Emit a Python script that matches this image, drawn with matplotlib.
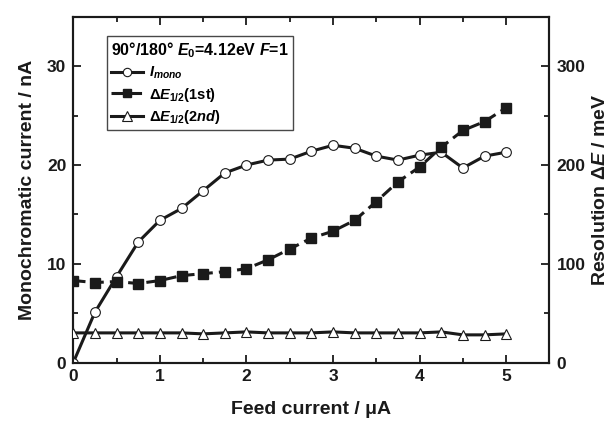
import matplotlib
matplotlib.use("Agg")
import matplotlib.pyplot as plt
from matplotlib.ticker import MultipleLocator
from matplotlib.lines import Line2D

plt.rcParams['font.family'] = ['Liberation Sans', 'DejaVu Sans']
plt.rcParams['font.weight'] = 'bold'
plt.rcParams['mathtext.fontset'] = 'custom'
plt.rcParams['mathtext.it'] = 'Liberation Sans:italic:bold'
plt.rcParams['mathtext.rm'] = 'Liberation Sans:bold'

# Feed current (uA)
feed = [0.0, 0.25, 0.5, 0.75, 1.0, 1.25, 1.5, 1.75, 2.0, 2.25, 2.5,
        2.75, 3.0, 3.25, 3.5, 3.75, 4.0, 4.25, 4.5, 4.75, 5.0]

# Monochromatic current (nA), left axis
i_mono = [0.0, 5.1, 8.7, 12.2, 14.4, 15.6, 17.4, 19.2, 20.0, 20.5, 20.6,
          21.4, 22.0, 21.7, 20.9, 20.5, 21.0, 21.3, 19.7, 20.9, 21.3]

# Resolution dE_1/2 (meV), right axis
de_1st = [83, 81, 82, 80, 83, 88, 90, 92, 95, 104, 115,
          126, 133, 144, 163, 183, 198, 218, 235, 244, 258]
de_2nd = [30, 30, 30, 30, 30, 30, 29, 30, 31, 30, 30,
          30, 31, 30, 30, 30, 30, 31, 28, 28, 29]

fig = plt.figure(figsize=(6.16, 4.23), dpi=100)
ax = fig.add_axes([0.119, 0.143, 0.773, 0.817])
ax2 = ax.twinx()

lw = 2.2
ax.plot(feed, i_mono, "-", color="#1a1a1a", lw=lw, marker="o", ms=7,
        mfc="white", mec="#1a1a1a", mew=0.8, zorder=3)
ax2.plot(feed, de_1st, "--", color="#1a1a1a", lw=lw, marker="s", ms=6.5,
         mfc="#1a1a1a", mec="#1a1a1a", dashes=(4, 2), zorder=3)
ax2.plot(feed, de_2nd, "-", color="#1a1a1a", lw=lw, marker="^", ms=7.5,
         mfc="white", mec="#1a1a1a", mew=0.8, zorder=3)

ax.set_xlim(0, 5.5)
ax.set_ylim(0, 35)
ax2.set_ylim(0, 350)

ax.xaxis.set_major_locator(MultipleLocator(1))
ax.xaxis.set_minor_locator(MultipleLocator(0.5))
ax.yaxis.set_major_locator(MultipleLocator(10))
ax.yaxis.set_minor_locator(MultipleLocator(5))
ax2.yaxis.set_major_locator(MultipleLocator(100))
ax2.yaxis.set_minor_locator(MultipleLocator(50))

for a in (ax, ax2):
    for s in a.spines.values():
        s.set_linewidth(1.5)
        s.set_color("#1a1a1a")
ax.tick_params(which="both", direction="in", top=True, width=1.3,
               labelsize=12.5, colors="#1a1a1a", pad=5)
ax.tick_params(which="major", length=6)
ax.tick_params(which="minor", length=3.5)
ax.tick_params(axis="y", right=False)
ax2.tick_params(which="both", direction="in", width=1.3, labelsize=12.5,
                colors="#1a1a1a", pad=5)
ax2.tick_params(which="major", length=6)
ax2.tick_params(which="minor", length=3.5)

ax.set_xlabel("Feed current / \u03bcA", fontsize=14, fontweight="bold",
              labelpad=12, color="#1a1a1a")
ax.set_ylabel("Monochromatic current / nA", fontsize=14, fontweight="bold",
              labelpad=8, color="#1a1a1a")
ax2.set_ylabel(r"Resolution $\Delta E$ / meV", fontsize=14, fontweight="bold",
               labelpad=5, color="#1a1a1a")

handles = [
    Line2D([], [], color="#1a1a1a", lw=lw, marker="o", ms=6, mfc="white",
           mec="#1a1a1a", mew=0.8),
    Line2D([], [], color="#1a1a1a", lw=lw, ls="--", dashes=(4, 2), marker="s",
           ms=5.5, mfc="#1a1a1a"),
    Line2D([], [], color="#1a1a1a", lw=lw, marker="^", ms=6.5, mfc="white",
           mec="#1a1a1a", mew=0.8),
]
labels = [r"$I_{mono}$", r"$\Delta E_{1/2}$(1st)", r"$\Delta E_{1/2}$$\mathit{(2nd)}$"]
leg = ax.legend(handles, labels, loc="upper left", bbox_to_anchor=(0.055, 0.965),
                title=r"90°/180° $E_0$=4.12eV $F$=1", fontsize=10.5,
                title_fontsize=11.5, frameon=True, fancybox=False,
                handlelength=2.2, handletextpad=0.4, borderpad=0.3,
                labelspacing=0.3, alignment="left")
leg.get_frame().set_edgecolor("#1a1a1a")
leg.get_frame().set_linewidth(1.0)
leg.get_title().set_fontweight("bold")

fig.savefig("out.png", dpi=100)
